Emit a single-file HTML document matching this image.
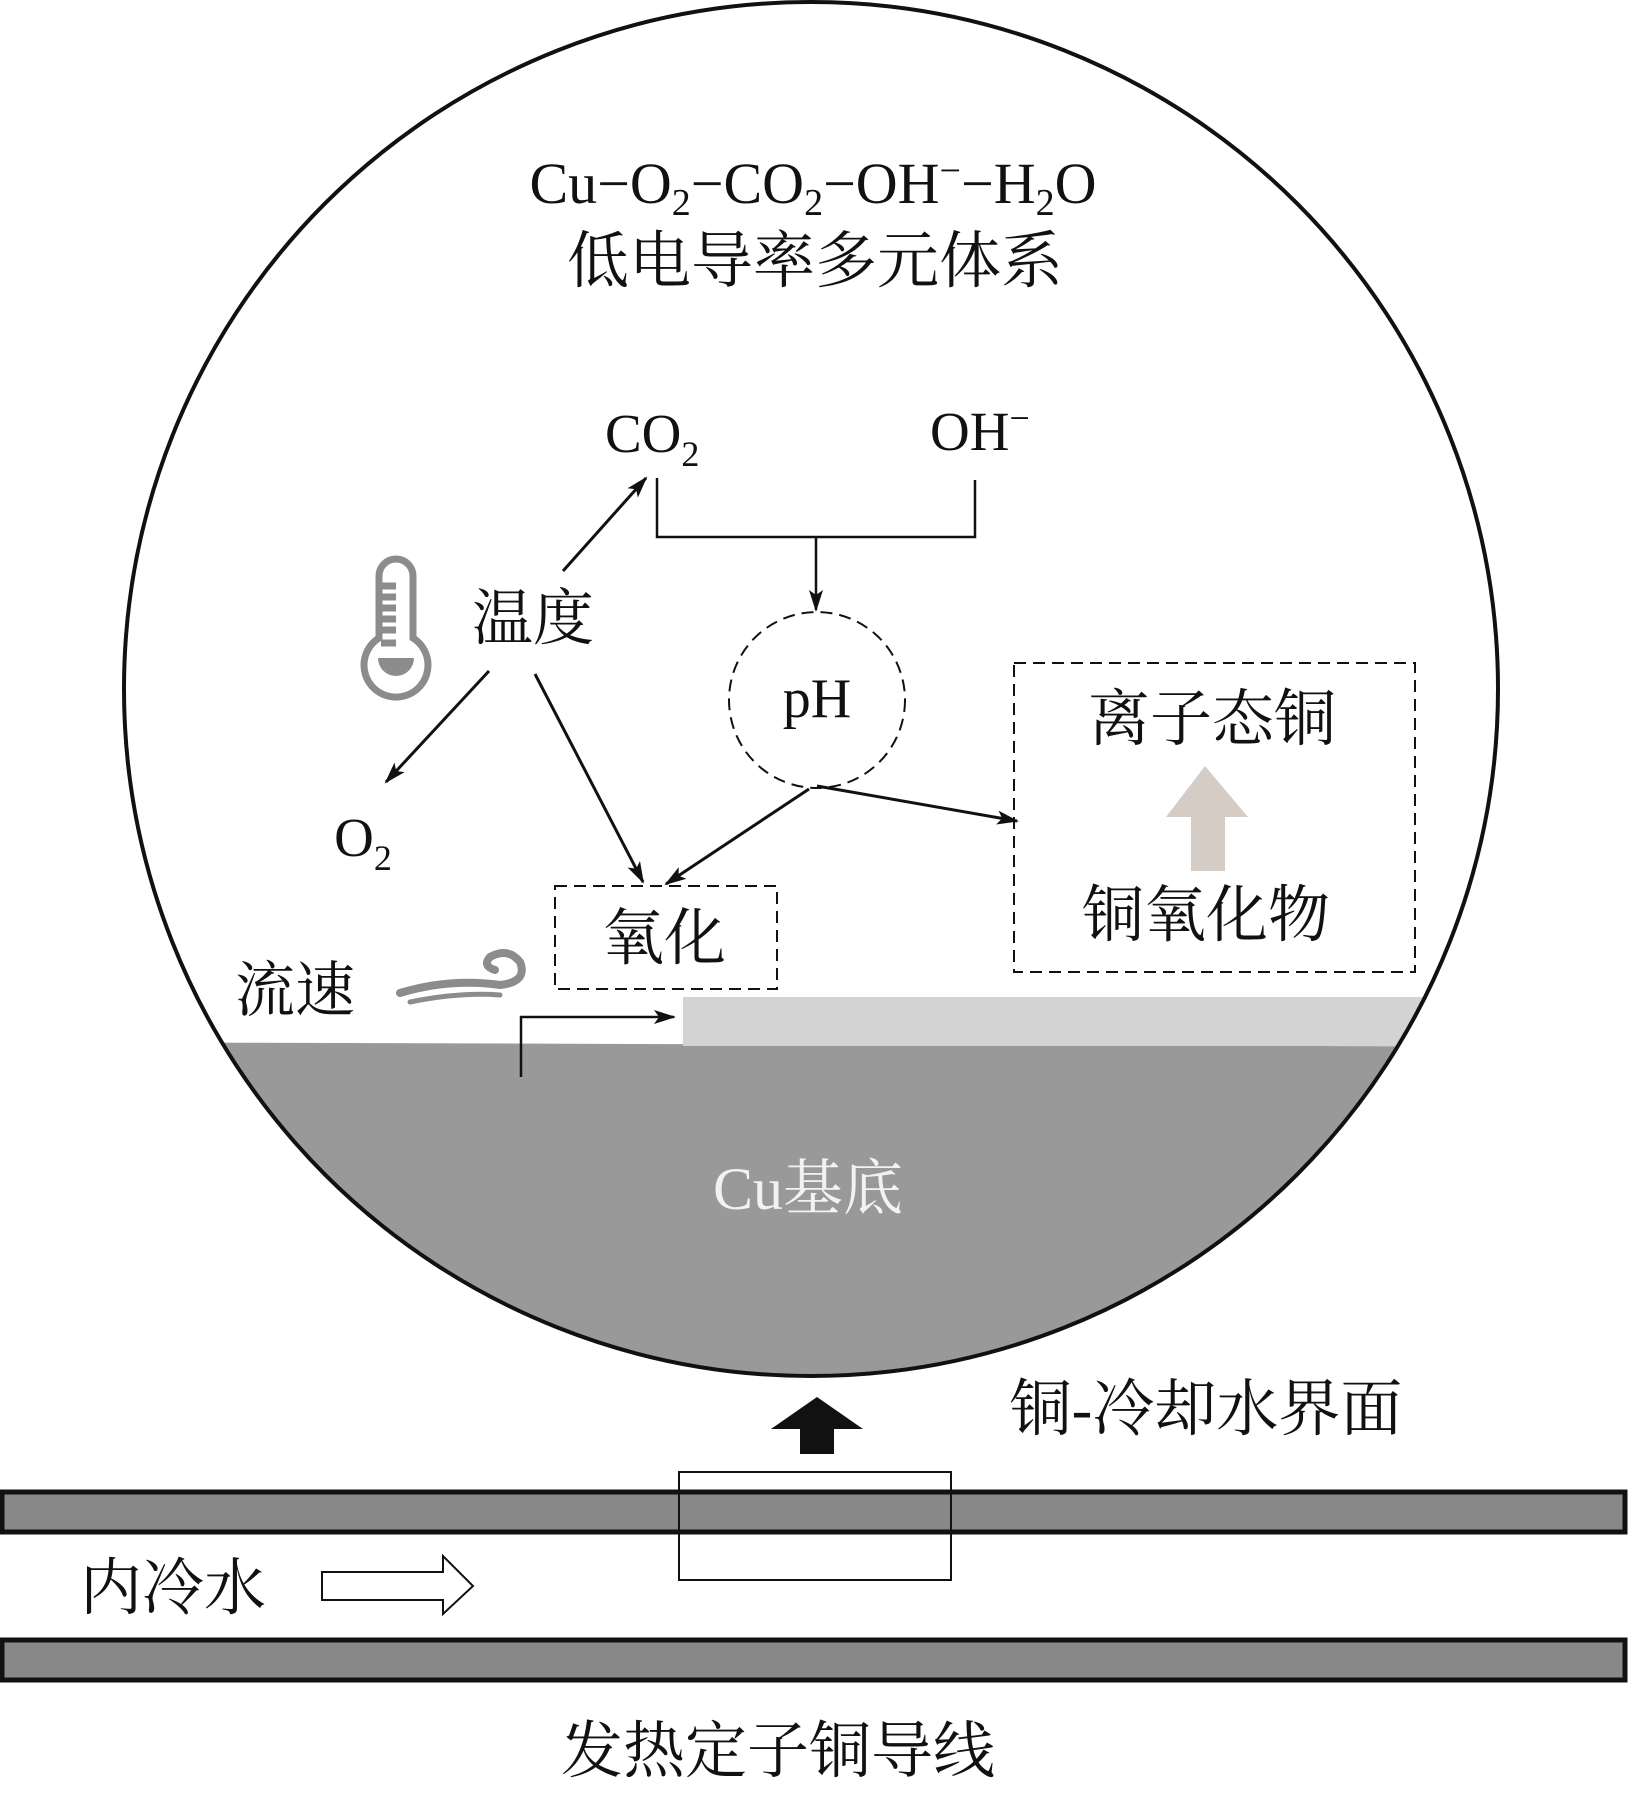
<!DOCTYPE html>
<html><head><meta charset="utf-8"><style>
body{margin:0;background:#fff}
svg{display:block}
text{font-family:"Liberation Serif","Noto Serif CJK SC",serif;fill:#111}
</style></head><body>
<svg width="1629" height="1793" viewBox="0 0 1629 1793" xmlns="http://www.w3.org/2000/svg">
<defs>
<clipPath id="cc"><circle cx="811" cy="689" r="687"/></clipPath>
<marker id="ah" markerWidth="22" markerHeight="14" refX="20" refY="7" orient="auto" markerUnits="userSpaceOnUse"><path d="M0,0 L22,7 L0,14 L5,7 Z" fill="#111"/></marker>
</defs>
<g clip-path="url(#cc)">
<path d="M0,1042 L1629,1047 L1629,1400 L0,1400 Z" fill="#999"/>
<rect x="683" y="997" width="946" height="49" fill="#d3d3d3"/>
</g>
<circle cx="811" cy="689" r="687" fill="none" stroke="#111" stroke-width="4"/>

<text x="813" y="203" font-size="58" text-anchor="middle">Cu−O<tspan font-size="38" dy="12">2</tspan><tspan dy="-12">−CO</tspan><tspan font-size="38" dy="12">2</tspan><tspan dy="-12">−OH</tspan><tspan font-size="38" dy="-20">−</tspan><tspan dy="20">−H</tspan><tspan font-size="38" dy="12">2</tspan><tspan dy="-12">O</tspan></text>
<text x="815" y="282" font-size="62" text-anchor="middle">低电导率多元体系</text>

<text x="605" y="452" font-size="55">CO<tspan font-size="36" dy="14">2</tspan></text>
<text x="930" y="450" font-size="55">OH<tspan font-size="36" dy="-20">−</tspan></text>
<polyline points="657,478 657,537 975,537 975,480" fill="none" stroke="#111" stroke-width="2.5"/>
<line x1="816" y1="537" x2="816" y2="610" stroke="#111" stroke-width="2.5" marker-end="url(#ah)"/>
<circle cx="817" cy="700" r="88" fill="none" stroke="#111" stroke-width="2" stroke-dasharray="12,7"/>
<text x="817" y="717" font-size="56" text-anchor="middle">pH</text>

<text x="533" y="639" font-size="61" text-anchor="middle">温度</text>
<g stroke="#8c8c8c" stroke-width="7" fill="none">
<path d="M379,638 L379,576 A17,17 0 0 1 413,576 L413,638 A32,32 0 1 1 379,638 Z"/>
<line x1="381" y1="586" x2="396" y2="586"/><line x1="381" y1="597" x2="396" y2="597"/><line x1="381" y1="608" x2="396" y2="608"/><line x1="381" y1="619" x2="396" y2="619"/><line x1="381" y1="630" x2="396" y2="630"/><line x1="381" y1="643" x2="396" y2="643"/>
</g>
<path d="M378,658 A18,18 0 0 0 414,658 Z" fill="#8c8c8c"/>

<g stroke="#111" stroke-width="3" marker-end="url(#ah)">
<line x1="563" y1="571" x2="646" y2="478"/>
<line x1="489" y1="671" x2="386" y2="782"/>
<line x1="535" y1="674" x2="643" y2="882"/>
<line x1="809" y1="789" x2="666" y2="884"/>
<line x1="817" y1="786" x2="1017" y2="821"/>
</g>
<text x="363" y="856" font-size="55" text-anchor="middle">O<tspan font-size="36" dy="14">2</tspan></text>

<rect x="555" y="886" width="222" height="103" fill="none" stroke="#111" stroke-width="2" stroke-dasharray="12,7"/>
<text x="664" y="959" font-size="62" text-anchor="middle">氧化</text>

<rect x="1014" y="663" width="401" height="309" fill="none" stroke="#111" stroke-width="2" stroke-dasharray="12,7"/>
<text x="1212" y="740" font-size="62" text-anchor="middle">离子态铜</text>
<text x="1206" y="936" font-size="62" text-anchor="middle">铜氧化物</text>
<path d="M1205,766 L1248,817 L1225,817 L1225,871 L1191,871 L1191,817 L1166,817 Z" fill="#d6ccc6"/>

<text x="295" y="1011" font-size="60" text-anchor="middle">流速</text>
<g fill="none" stroke="#8c8c8c" stroke-linecap="round">
<path d="M400,993 Q450,978 500,985 Q528,982 520,962 Q508,947 490,957 Q482,966 495,970" stroke-width="8"/>
<path d="M410,1002 Q460,992 500,995" stroke-width="5"/>
</g>

<polyline points="521,1077 521,1017 674,1017" fill="none" stroke="#111" stroke-width="2.5" marker-end="url(#ah)"/>
<text x="808" y="1209" font-size="60" text-anchor="middle" style="fill:#f2f2f2">Cu基底</text>

<path d="M817,1397 L863,1429 L834,1429 L834,1454 L800,1454 L800,1429 L771,1429 Z" fill="#111"/>
<text x="1206" y="1430" font-size="62" text-anchor="middle">铜-冷却水界面</text>

<rect x="2" y="1492" width="1623" height="40" fill="#888" stroke="#111" stroke-width="5"/>
<rect x="2" y="1640" width="1623" height="40" fill="#888" stroke="#111" stroke-width="5"/>
<rect x="679" y="1472" width="272" height="108" fill="none" stroke="#111" stroke-width="2"/>

<text x="173" y="1609" font-size="62" text-anchor="middle">内冷水</text>
<path d="M322,1572 L443,1572 L443,1556 L473,1586 L443,1614 L443,1600 L322,1600 Z" fill="#fff" stroke="#111" stroke-width="2"/>

<text x="778" y="1772" font-size="62" text-anchor="middle">发热定子铜导线</text>
</svg>
</body></html>
